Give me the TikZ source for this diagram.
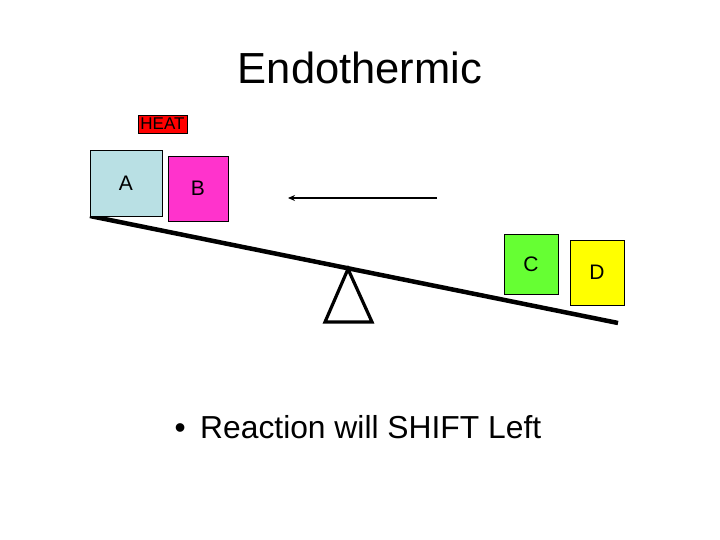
\documentclass[tikz,border=0pt]{standalone}
\usepackage{fontspec}
\setmainfont{Liberation Sans}
\usetikzlibrary{arrows.meta}

\definecolor{boxA}{RGB}{185,224,228}
\definecolor{boxB}{RGB}{255,51,204}
\definecolor{boxC}{RGB}{102,255,51}
\definecolor{boxD}{RGB}{255,255,0}
\definecolor{heatred}{RGB}{255,0,0}

\begin{document}
\begin{tikzpicture}[x=1pt,y=-1pt,>=Stealth,
  blk/.style={draw=black,line width=0.8pt,inner sep=0pt,
    font=\fontsize{21}{21}\selectfont},
  beam/.style={line width=4.5pt},
  pivot/.style={line width=3.2pt,line join=miter},
]
\useasboundingbox (0,0) rectangle (720,540);

% ============================================================
% Title
% ============================================================
\node (title) at (360,68) {\fontsize{43.5}{44}\selectfont Endothermic};

% ============================================================
% See-saw
% ============================================================
\draw[beam] (90,216) -- (618,323);
\draw[pivot] (348,269) -- (372,322) -- (325,322) -- cycle;

% ============================================================
% Reactant and product blocks
% ============================================================
\node[blk,fill=heatred,minimum width=49pt,minimum height=18pt,
  font=\fontsize{17}{17}\selectfont] (heat) at (162.5,124) {HEAT};
\node[blk,fill=boxA,minimum width=72pt,minimum height=66pt] (blkA) at (126,183) {A};
\node[blk,fill=boxB,minimum width=60pt,minimum height=65pt] (blkB) at (198,188.5) {B};
\node[blk,fill=boxC,minimum width=54pt,minimum height=60pt] (blkC) at (531,264) {C};
\node[blk,fill=boxD,minimum width=54pt,minimum height=65pt] (blkD) at (597,272.5) {D};

% Shift arrow
\coordinate (arrR) at (437,198);
\coordinate (arrL) at (288,198);
\draw[line width=1.6pt,-{Stealth[length=7pt,width=6pt]}] (arrR) -- (arrL);

% ============================================================
% Bullet
% ============================================================
\node[anchor=west,inner sep=0pt] (note) at (171,427)
  {\fontsize{31.8}{32}\selectfont
   \makebox[29pt][l]{\hspace{3.3pt}\textbullet}Reaction will SHIFT Left};
\end{tikzpicture}
\end{document}
